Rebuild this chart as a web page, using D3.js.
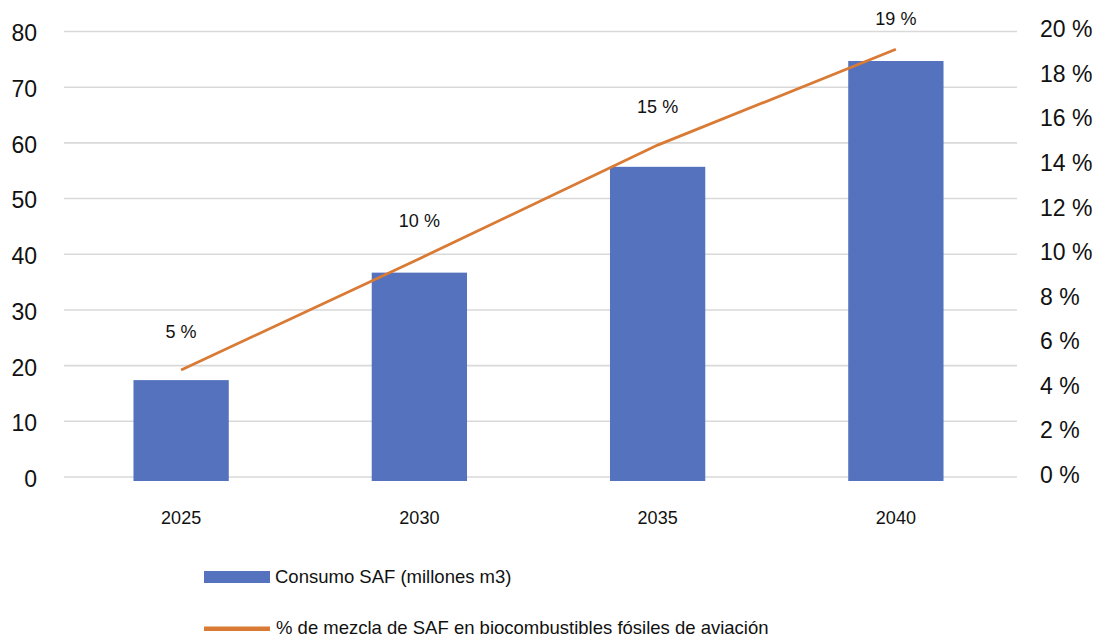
<!DOCTYPE html>
<html>
<head>
<meta charset="utf-8">
<script src="https://cdn.jsdelivr.net/npm/d3@7"></script>
<style>
  html, body { margin: 0; padding: 0; background: #fff; }
  svg { display: block; font-family: "Liberation Sans", Arial, Helvetica, sans-serif; }
</style>
</head>
<body>
<svg id="chart" width="1099" height="638"></svg>
<script>
const categories = ["2025", "2030", "2035", "2040"];
const consumo = [17.4, 36.7, 55.7, 74.7];
const mezcla = [4.8, 9.8, 14.9, 19.2];
const leftTicks = [0, 10, 20, 30, 40, 50, 60, 70, 80];
const rightTicks = [0, 2, 4, 6, 8, 10, 12, 14, 16, 18, 20];
const seriesNames = ["Consumo SAF (millones m3)", "% de mezcla de SAF en biocombustibles fósiles de aviación"];

const barColor = "#5572BE";
const lineColor = "#D97A35";
const gridColor = "#D9D9D9";

const svg = d3.select("#chart");

const x = d3.scaleBand().domain(categories).range([62, 1015]).paddingInner(0.6).paddingOuter(0.3);
const yL = d3.scaleLinear().domain([0, 80]).range([477, 31.5]);
const yR = d3.scaleLinear().domain([0, 20]).range([477, 31.5]);

// gridlines
svg.append("g").selectAll("line").data(leftTicks).join("line")
  .attr("x1", 64).attr("x2", 1017)
  .attr("y1", d => yL(d)).attr("y2", d => yL(d))
  .attr("stroke", gridColor).attr("stroke-width", 1.6);

// left axis
const gL = svg.append("g").attr("transform", "translate(37,2)")
  .call(d3.axisLeft(yL).tickValues(leftTicks).tickSize(0).tickPadding(0));
gL.select(".domain").remove();
gL.selectAll("text").attr("font-size", 23).attr("fill", "#111").attr("font-family", null);

// right axis
const gR = svg.append("g").attr("transform", "translate(1040,-2)")
  .call(d3.axisRight(yR).tickValues(rightTicks).tickSize(0).tickPadding(0).tickFormat(d => d + " %"));
gR.select(".domain").remove();
gR.selectAll("text").attr("font-size", 23).attr("fill", "#111").attr("font-family", null);

// bars
svg.append("g").selectAll("rect").data(consumo).join("rect")
  .attr("x", (d, i) => x(categories[i]))
  .attr("width", x.bandwidth())
  .attr("y", d => yL(d))
  .attr("height", d => yL(0) + 4 - yL(d))
  .attr("fill", barColor);

// x axis labels
const gX = svg.append("g").attr("transform", "translate(0,511)")
  .call(d3.axisBottom(x).tickSize(0).tickPadding(0));
gX.select(".domain").remove();
gX.selectAll("text").attr("font-size", 18).attr("fill", "#111").attr("font-family", null);

// line
const cx = i => x(categories[i]) + x.bandwidth() / 2;
const line = d3.line().x((d, i) => cx(i)).y(d => yR(d));
svg.append("path").datum(mezcla)
  .attr("d", line)
  .attr("fill", "none")
  .attr("stroke", lineColor)
  .attr("stroke-width", 2.8);

// line labels
svg.append("g").selectAll("text").data(mezcla).join("text")
  .attr("x", (d, i) => cx(i))
  .attr("y", d => Math.max(yR(d) - 38, 19))
  .attr("dy", "0.35em")
  .attr("text-anchor", "middle")
  .attr("font-size", 18)
  .attr("fill", "#111")
  .text(d => d3.format(".0f")(d) + " %");

// legend
const leg = svg.append("g");
leg.append("rect").attr("x", 204).attr("y", 571).attr("width", 66).attr("height", 12).attr("fill", barColor);
leg.append("text").attr("x", 275).attr("y", 577).attr("dy", "0.35em").attr("font-size", 18.5).attr("fill", "#111").text(seriesNames[0]);
leg.append("rect").attr("x", 204).attr("y", 626.5).attr("width", 66).attr("height", 4.5).attr("fill", lineColor);
leg.append("text").attr("x", 276).attr("y", 628).attr("dy", "0.35em").attr("font-size", 18.5).attr("fill", "#111").text(seriesNames[1]);
</script>
</body>
</html>
